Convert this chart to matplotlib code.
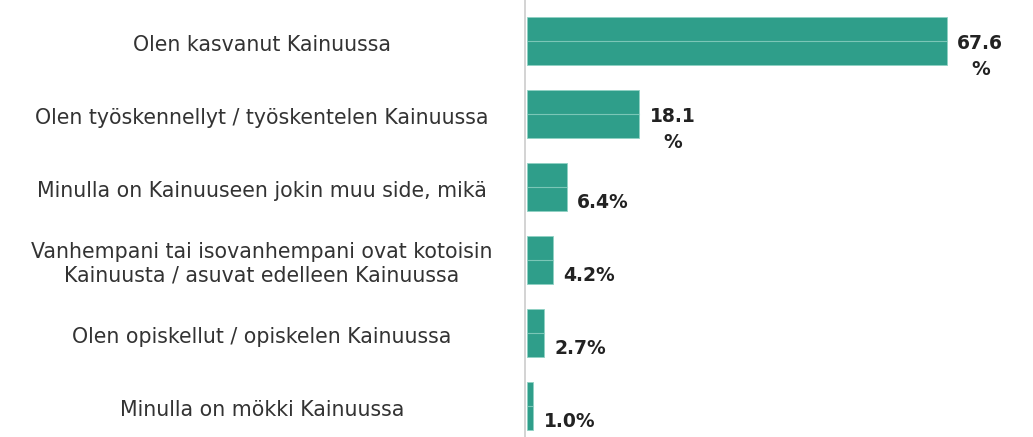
import matplotlib
matplotlib.use("Agg")
import matplotlib.pyplot as plt
import matplotlib.transforms as mtrans

categories = [
    "Olen kasvanut Kainuussa",
    "Olen työskennellyt / työskentelen Kainuussa",
    "Minulla on Kainuuseen jokin muu side, mikä",
    "Vanhempani tai isovanhempani ovat kotoisin\nKainuusta / asuvat edelleen Kainuussa",
    "Olen opiskellut / opiskelen Kainuussa",
    "Minulla on mökki Kainuussa",
]
values = [67.6, 18.1, 6.4, 4.2, 2.7, 1.0]
value_labels = ["67.6\n%", "18.1\n%", "6.4%", "4.2%", "2.7%", "1.0%"]

bar_color = "#2f9e8a"
line_color = "#8fd1c3"

fig = plt.figure(figsize=(10.33, 4.37), dpi=100)
ax = fig.add_axes([527 / 1033, 0, 1 - 527 / 1033, 1])

y = list(range(len(values)))
ax.barh(y, values, height=0.66, color=bar_color, edgecolor=line_color, linewidth=0.6)
for yi, v in zip(y, values):
    ax.plot([0, v], [yi, yi], color=line_color, lw=0.8, alpha=0.8)

ax.set_xlim(0, 81.5)
ax.set_ylim(5.42, -0.56)
ax.axis("off")

# value labels
for yi, v, lab in zip(y, values, value_labels):
    ax.text(v + 1.7, yi + 0.21, lab, ha="left", va="center", fontsize=13.5,
            fontweight="bold", color="#222222", multialignment="center",
            linespacing=1.5, clip_on=False)

# category labels, centred in left area
tr = mtrans.blended_transform_factory(fig.transFigure, ax.transData)
for yi, c in zip(y, categories):
    ax.text(262 / 1033, yi + 0.05, c, transform=tr, ha="center", va="center",
            fontsize=14.8, color="#333333", linespacing=1.2)

# vertical axis line
fig.add_artist(plt.Line2D([525 / 1033, 525 / 1033], [0, 1], color="#cccccc", lw=1.2))

fig.savefig("out.png", dpi=100)
